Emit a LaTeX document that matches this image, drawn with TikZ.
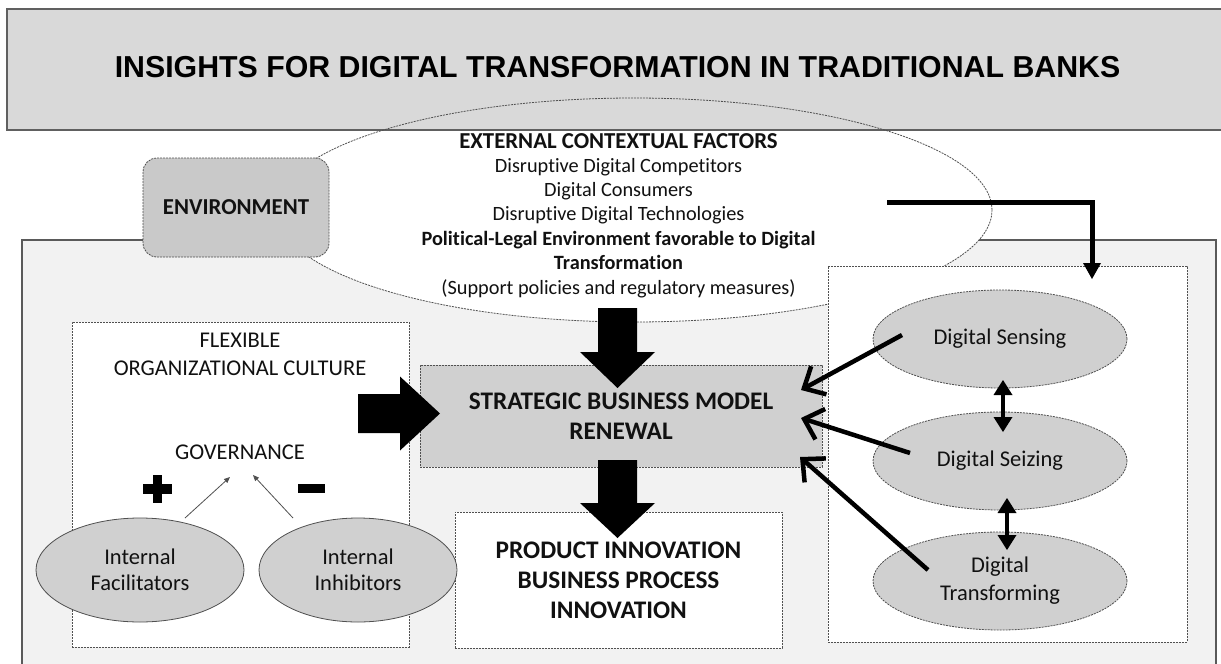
\documentclass[tikz,border=0pt]{standalone}
\usepackage{fontspec}
\setmainfont{Carlito}[Ligatures=NoCommon]
\newfontfamily\titlefont{Liberation Sans}
\usetikzlibrary{arrows.meta,shapes.geometric}
\definecolor{maingray}{HTML}{F2F2F2}
\definecolor{titlegray}{HTML}{D9D9D9}
\definecolor{envgray}{HTML}{C9C9C9}
\definecolor{sbmrgray}{HTML}{D0D0D0}
\definecolor{ellfill}{HTML}{D0D0D0}
\definecolor{dashgray}{HTML}{505050}
\definecolor{mainedge}{HTML}{5A5A5A}
\definecolor{titleedge}{HTML}{606060}
\definecolor{txt}{HTML}{111111}
\begin{document}
\begin{tikzpicture}[x=1pt,y=-1pt,
  dashbox/.style={draw=dashgray, line width=0.8pt, dash pattern=on 2pt off 1pt},
  plain/.style={inner sep=0pt, outer sep=0pt},
  ftxt/.style={font=\fontsize{20.3}{25}\selectfont, text=txt, inner sep=0pt, anchor=base},
  fbold/.style={font=\bfseries\fontsize{20.3}{25}\selectfont, text=txt, inner sep=0pt, anchor=base},
  fhead/.style={font=\bfseries\fontsize{22.8}{27}\selectfont, text=txt, inner sep=0pt, anchor=base},
  midtxt/.style={font=\fontsize{22.5}{28}\selectfont, text=txt, align=center},
  bigbold/.style={font=\bfseries\fontsize{25.3}{30}\selectfont, text=txt, align=center},
  grayell/.style={ellipse, fill=ellfill, inner sep=0pt, outer sep=0pt},
  thinarrow/.style={draw=dashgray, line width=0.8pt, -{Triangle[length=6pt,width=5pt]}},
  digarrow/.style={draw=black, line width=4.5pt, -{Straight Barb[length=17pt,width=32pt]}},
  dblarrow/.style={draw=black, line width=4.5pt, {Triangle[length=15pt,width=19pt,line width=0pt]}-{Triangle[length=15pt,width=19pt,line width=0pt]}},
  elbowarrow/.style={draw=black, line width=5pt, -{Triangle[length=16pt,width=18pt,line width=0pt]}},
  blockfill/.style={fill=black}
]
\clip (0,0) rectangle (1221,664);
\fill[white] (0,0) rectangle (1221,664);

% main light-gray area
\node[plain, draw=mainedge, line width=1.5pt, fill=maingray, minimum width=1194pt, minimum height=460pt, anchor=north west] (main) at (22,240) {};

% external contextual factors ellipse (fill)
\node[ellipse, dashbox, fill=white, plain, minimum width=716pt, minimum height=224pt] (ext) at (634,210) {};

% title box
\node[plain, draw=titleedge, line width=1.5pt, fill=titlegray, minimum width=1240pt, minimum height=121pt, anchor=north west] (titlebox) at (7,9) {};
\node[plain, font=\titlefont\bfseries\fontsize{30.3}{36}\selectfont, text=black] (title) at (617.5,67.5) {INSIGHTS FOR DIGITAL TRANSFORMATION IN TRADITIONAL BANKS};

% ellipse outline visible across the title box
\begin{scope}
\clip (0,0) rectangle (1221,130);
\draw[dashgray, line width=0.8pt, dash pattern=on 2pt off 1pt] (634,210) ellipse [x radius=358pt, y radius=112pt];
\end{scope}

% ellipse texts
\node[fhead] (e1) at (618.5,148) {EXTERNAL CONTEXTUAL FACTORS};
\node[ftxt] (e2) at (618.5,172.5) {Disruptive Digital Competitors};
\node[ftxt] (e3) at (618.5,196.5) {Digital Consumers};
\node[ftxt] (e4) at (618.5,220.5) {Disruptive Digital Technologies};
\node[fbold] (e5) at (618.5,245) {Political-Legal Environment favorable to Digital};
\node[fbold] (e6) at (618.5,269) {Transformation};
\node[ftxt] (e7) at (618.5,294.5) {(Support policies and regulatory measures)};

% environment box
\node[dashbox, rounded corners=14pt, fill=envgray, minimum width=186pt, minimum height=99pt, font=\bfseries\fontsize{22.8}{27}\selectfont, text=txt] (env) at (236,207.5) {ENVIRONMENT};

% right box (dynamic capabilities)
\node[plain, dashbox, fill=white, minimum width=359pt, minimum height=376pt, anchor=north west] (rightbox) at (828,266) {};

% flexible culture box
\node[plain, dashbox, fill=white, minimum width=337pt, minimum height=325pt, anchor=north west] (flexbox) at (72,322) {};
\node[midtxt] (flex) at (240,354) {FLEXIBLE\\ORGANIZATIONAL CULTURE};
\node[midtxt] (gov) at (240,452) {GOVERNANCE};

% strategic business model renewal
\node[plain, dashbox, fill=sbmrgray, minimum width=402pt, minimum height=102pt, bigbold] (sbmr) at (621,416) {STRATEGIC BUSINESS MODEL\\RENEWAL};

% product innovation
\node[plain, dashbox, fill=white, minimum width=327pt, minimum height=136pt, bigbold] (pi) at (618.5,580) {PRODUCT INNOVATION\\BUSINESS PROCESS\\INNOVATION};

% internal ellipses
\node[grayell, draw=dashgray, line width=0.8pt, minimum width=208pt, minimum height=104pt, midtxt, font=\fontsize{22.5}{26.5}\selectfont] (fac) at (140,570) {Internal\\Facilitators};
\node[grayell, draw=dashgray, line width=0.8pt, minimum width=198pt, minimum height=104pt, midtxt, font=\fontsize{22.5}{26.5}\selectfont] (inh) at (358,570) {Internal\\Inhibitors};

% plus and minus
\fill[black] (143,484) rectangle (172,493.5);
\fill[black] (152.8,474.5) rectangle (162.3,502.5);
\fill[black] (298,483.5) rectangle (325,493);

% digital ellipses
\node[grayell, dashbox, minimum width=254pt, minimum height=98pt, midtxt] (sens) at (1000,339) {Digital Sensing};
\node[grayell, dashbox, minimum width=254pt, minimum height=98pt, midtxt] (seiz) at (1000,461) {Digital Seizing};
\node[grayell, dashbox, minimum width=254pt, minimum height=98pt, midtxt] (trans) at (1000,581) {Digital\\Transforming};

% block arrows
\fill[blockfill] (358,394) -- (400,394) -- (400,376.5) -- (440,413.5) -- (400,450.5) -- (400,433) -- (358,433) -- cycle;
\fill[blockfill] (598,308) -- (598,352) -- (580,352) -- (617.5,388) -- (655,352) -- (637,352) -- (637,308) -- cycle;
\fill[blockfill] (598,460) -- (598,503) -- (580,503) -- (617.5,538) -- (655,503) -- (637,503) -- (637,460) -- cycle;

% governance arrows
\coordinate (g1s) at (185,518);
\coordinate (g1t) at (230,477);
\coordinate (g2s) at (293,518);
\coordinate (g2t) at (253,475);
\draw[thinarrow] (g1s) -- (g1t);
\draw[thinarrow] (g2s) -- (g2t);

% digital -> SBMR
\coordinate (d1s) at (902,335);
\coordinate (d1t) at (801,390);
\coordinate (d2s) at (910,453);
\coordinate (d2t) at (801,418);
\coordinate (d3s) at (928,570);
\coordinate (d3t) at (800,457);
\draw[digarrow] (d1s) -- (d1t);
\draw[digarrow] (d2s) -- (d2t);
\draw[digarrow] (d3s) -- (d3t);

% double arrows between capabilities
\coordinate (b1a) at (1003,380);
\coordinate (b1b) at (1003,432);
\coordinate (b2a) at (1007,498);
\coordinate (b2b) at (1007,550);
\draw[dblarrow] (b1a) -- (b1b);
\draw[dblarrow] (b2a) -- (b2b);

% elbow arrow from environment to capabilities
\coordinate (el0) at (887,202);
\coordinate (el1) at (1092,279);
\draw[elbowarrow] (el0) -| (el1);
\end{tikzpicture}
\end{document}
